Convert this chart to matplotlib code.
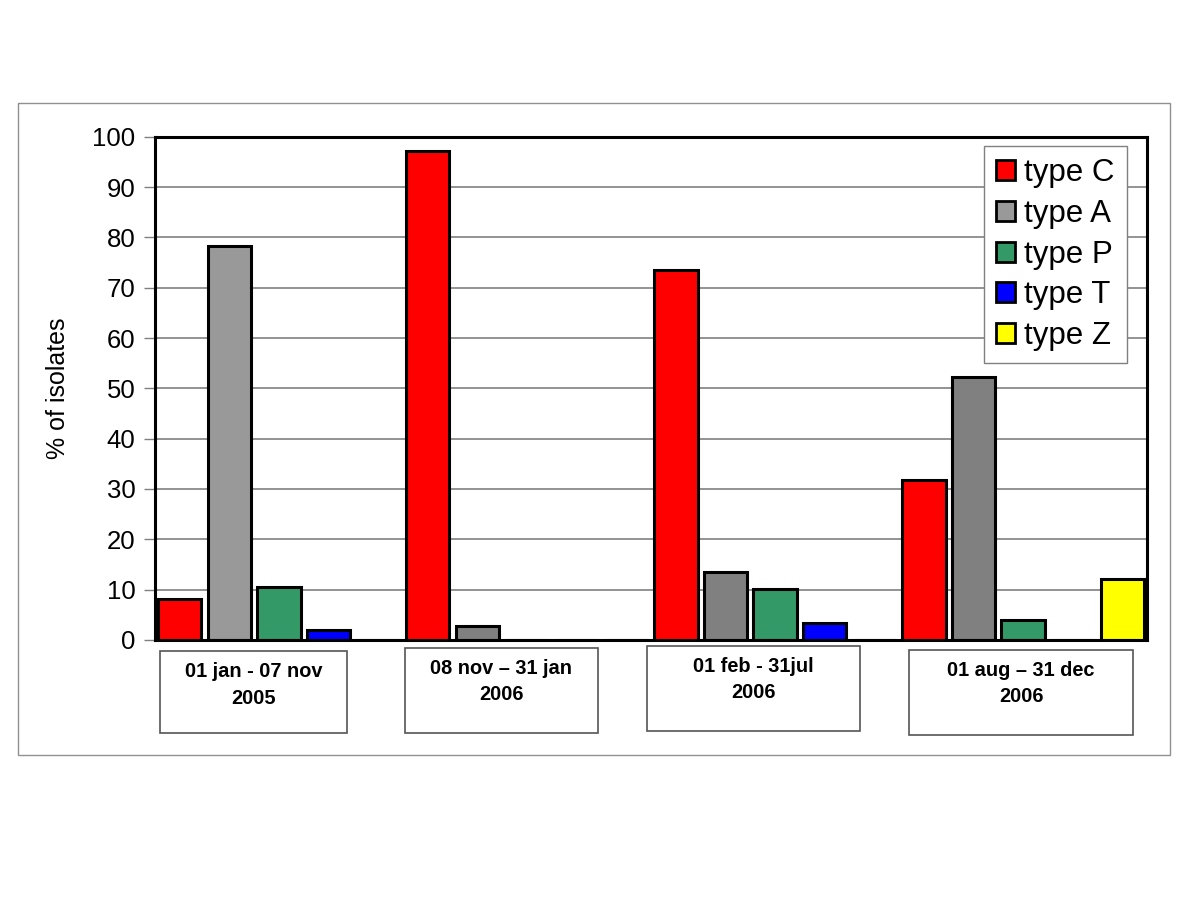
import numpy as np
import matplotlib
matplotlib.use("Agg")
import matplotlib.pyplot as plt
from matplotlib.patches import Rectangle

plt.rcParams['font.family'] = ['Liberation Sans', 'DejaVu Sans']

# periods (shown in boxes under the axis)
periods = ["01 jan - 07 nov\n2005", "08 nov \u2013 31 jan\n2006",
           "01 feb - 31jul\n2006", "01 aug \u2013 31 dec\n2006"]
types = ["type C", "type A", "type P", "type T", "type Z"]

# % of isolates per type, one value per period
type_C = [8.2, 97.2, 73.5, 31.8]
type_A = [78.2, 2.8, 13.5, 52.2]
type_P = [10.5, 0, 10.1, 4.0]
type_T = [2.0, 0, 3.4, 0]
type_Z = [0, 0, 0, 12.1]

colors = ["#ff0000", "#808080", "#339966", "#0000ff", "#ffff00"]
series = [type_C, type_A, type_P, type_T, type_Z]

fig = plt.figure(figsize=(12, 9), dpi=100)
ax = fig.add_axes([0.129, 0.289, 0.827, 0.559])

slot = 0.2
x = np.arange(len(periods))
for j, (name, vals, c) in enumerate(zip(types, series, colors)):
    bars = ax.bar(x + slot / 2 + j * slot, vals, width=0.175, color=c,
                  edgecolor="black", linewidth=2.2, label=name, zorder=3)
    if name == "type A":
        bars[0].set_facecolor("#999999")  # first period drawn lighter

ax.set_xlim(0, 4)
ax.set_ylim(0, 100)
ax.set_yticks(np.arange(0, 101, 10))
ax.tick_params(axis="y", labelsize=18.5, length=8, width=1, color="#808080",
               direction="out", pad=6)
ax.set_xticks([])
ax.yaxis.grid(True, color="#808080", linewidth=1.2, zorder=0)
for s in ax.spines.values():
    s.set_linewidth(2.2)
    s.set_color("black")
    s.set_zorder(4)
ax.set_ylabel("% of isolates", fontsize=18, labelpad=16)

leg = ax.legend(loc="upper right", fontsize=22.5, frameon=True, fancybox=False,
                edgecolor="#808080", handlelength=0.6, handleheight=0.6,
                handletextpad=0.3, borderpad=0.4, labelspacing=0.34,
                borderaxespad=0, bbox_to_anchor=(0.98, 0.982), framealpha=1)
leg.get_frame().set_linewidth(1)
for h in leg.legend_handles:
    h.set_linewidth(2)

# label boxes under the axis (pixel layout converted to figure fraction)
W, H = 1200.0, 900.0
box_px = [(160, 651, 347, 733), (405, 648, 598, 733),
          (647, 646, 860, 731), (909, 650, 1133, 735)]
for (x0, y0, x1, y1), txt in zip(box_px, periods):
    fig.add_artist(Rectangle((x0 / W, 1 - y1 / H), (x1 - x0) / W, (y1 - y0) / H,
                             transform=fig.transFigure, facecolor="white",
                             edgecolor="#555555", linewidth=1.2))
    fig.text((x0 + x1) / 2 / W, 1 - (y0 + 11) / H, txt, ha="center", va="top",
             fontsize=14.4, fontweight="bold", linespacing=1.5)

# outer frame
fig.add_artist(Rectangle((18 / W, 1 - 755 / H), (1170 - 18) / W, (755 - 103) / H,
                         transform=fig.transFigure, fill=False,
                         edgecolor="#909090", linewidth=1))

fig.savefig("out.png", dpi=100)
